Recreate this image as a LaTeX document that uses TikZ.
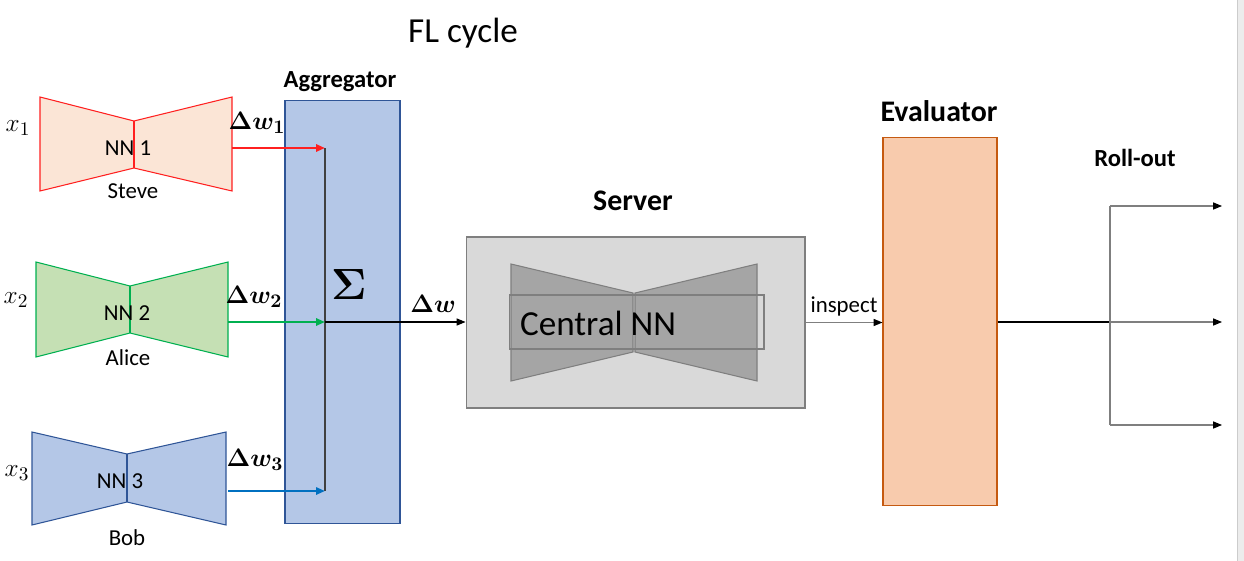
\documentclass[tikz,border=0pt]{standalone}
\usepackage{fontspec}
\setmainfont{Carlito}
\usepackage{amsmath}
\usetikzlibrary{calc}
\usetikzlibrary{arrows.meta}

\definecolor{steveRand}{HTML}{FF2020}
\definecolor{steveFill}{HTML}{FBE5D6}
\definecolor{aliceRand}{HTML}{00B050}
\definecolor{aliceFill}{HTML}{C5E0B4}
\definecolor{bobRand}{HTML}{2F5597}
\definecolor{bobFill}{HTML}{B4C7E7}
\definecolor{pfeilBlau}{HTML}{0070C0}
\definecolor{serverFill}{HTML}{D9D9D9}
\definecolor{zentralFill}{HTML}{A5A5A5}
\definecolor{rahmenGrau}{HTML}{7F7F7F}
\definecolor{evalFill}{HTML}{F8CBAD}
\definecolor{evalRand}{HTML}{C55A11}
\definecolor{seiteGrau}{HTML}{ECECEC}

% Sanduhr: Stil, x links, x Mitte, x rechts, oben, unten, Taille oben, Taille unten
\newcommand{\sanduhr}[8]{%
  \filldraw[#1] (#2,#5) -- (#3,#7) -- (#4,#5) -- (#4,#6) -- (#3,#8) -- (#2,#6) -- cycle;
  \draw[#1, line width=1.3pt] (#3,#7) -- (#3,#8);}

\tikzset{
  beschriftung/.style={font=\fontsize{13}{15}\selectfont},
  formel/.style={font=\fontsize{15}{17}\selectfont},
  ueberschrift/.style={font=\fontsize{#1}{#1}\selectfont\bfseries},
  pfeil/.style={-{Triangle[length=5pt,width=4pt,color=black]}, line width=0.6pt},
}

\begin{document}
\begin{tikzpicture}[x=0.02cm,y=-0.02cm]
\useasboundingbox (0,0) rectangle (1244,561);
\fill[seiteGrau] (1237,0) rectangle (1244,561);
\draw[black!20] (1237,0) -- (1237,561);

\def\pfeilX{325}

\node[font=\fontsize{20}{22}\selectfont] (titel) at (463,33) {FL cycle};

% Clients
\sanduhr{draw=steveRand, fill=steveFill, line width=0.6pt}{40}{134}{232}{97}{191}{121}{168}
\sanduhr{draw=aliceRand, fill=aliceFill, line width=0.6pt}{36}{130}{228}{262}{357}{286}{333}
\sanduhr{draw=bobRand, fill=bobFill, line width=0.6pt}{32}{127}{226}{432}{525}{454}{502}
\node[beschriftung] (nn1) at (128,148) {NN 1};
\node[beschriftung] (nn2) at (127,313) {NN 2};
\node[beschriftung] (nn3) at (120,481) {NN 3};
\node[beschriftung] (steve) at (133,191) {Steve};
\node[beschriftung] (alice) at (128,358) {Alice};
\node[beschriftung] (bob) at (127,538) {Bob};
\node[formel] (x1) at (18,128) {$x_1$};
\node[formel] (x2) at (16,300) {$x_2$};
\node[formel] (x3) at (17,473) {$x_3$};

% Aggregator
\node[draw=bobRand, fill=bobFill, line width=0.6pt, minimum width=2.3cm, minimum height=8.48cm, inner sep=0pt] (agg) at (342.5,312) {};
\node[ueberschrift=14] (aggLabel) at (340,82) {Aggregator};
\node[font=\fontsize{34}{36}\selectfont] (sigma) at (349,285) {$\boldsymbol{\Sigma}$};
\coordinate (s1) at (\pfeilX,148);
\coordinate (s2) at (\pfeilX,322);
\coordinate (s3) at (\pfeilX,491);
\draw[black!75, line width=0.6pt] (s1) -- (s3);
\coordinate (d1) at (232,148);
\coordinate (d2) at (228,322);
\coordinate (d3) at (228,491);
\draw[pfeil, steveRand, line width=1.3pt, -{Triangle[length=5pt,width=4pt]}] (d1) -- (s1);
\draw[pfeil, aliceRand, line width=1.3pt, -{Triangle[length=5pt,width=4pt]}] (d2) -- (s2);
\draw[pfeil, pfeilBlau, line width=1.3pt, -{Triangle[length=5pt,width=4pt]}] (d3) -- (s3);
\node[formel] (dw1) at (257,123) {$\boldsymbol{\Delta w_1}$};
\node[formel] (dw2) at (254,297) {$\boldsymbol{\Delta w_2}$};
\node[formel] (dw3) at (255,460) {$\boldsymbol{\Delta w_3}$};

% Server
\node[draw=rahmenGrau, fill=serverFill, line width=0.6pt, minimum width=6.78cm, minimum height=3.42cm, inner sep=0pt] (server) at (635.5,322.5) {};
\node[ueberschrift=17] (serverLabel) at (633,201) {Server};
\filldraw[draw=rahmenGrau, fill=zentralFill, line width=0.6pt] (511,264) -- (633,293) -- (633,352) -- (511,381) -- cycle;
\filldraw[draw=rahmenGrau, fill=zentralFill, line width=0.6pt] (757,264) -- (635,293) -- (635,352) -- (757,381) -- cycle;
\node[draw=rahmenGrau, line width=0.6pt, minimum width=5.1cm, minimum height=1.08cm, inner sep=0pt] (zentralBox) at (636.5,322) {};
\node[font=\fontsize{20}{22}\selectfont] (zentral) at (598,323) {Central NN};
\draw[pfeil] (s2) -- node[pos=0.77, above, formel, yshift=2pt] {$\boldsymbol{\Delta w}$} (s2 -| server.west);

% Evaluator
\node[draw=evalRand, fill=evalFill, line width=0.6pt, minimum width=2.28cm, minimum height=7.38cm, inner sep=0pt] (eval) at (940,321.5) {};
\node[ueberschrift=17] (evalLabel) at (939,111) {Evaluator};
\draw[pfeil, rahmenGrau] (server.east) -- node[above, beschriftung, text=black] {inspect} (server.east -| eval.west);

% Roll-out
\node[ueberschrift=14] (rollLabel) at (1135,158) {Roll-out};
\coordinate (verteiler) at (1110,322);
\coordinate (v1) at (1110,206);
\coordinate (v3) at (1110,425);
\coordinate (r1) at (1222,206);
\coordinate (r2) at (1222,322);
\coordinate (r3) at (1222,425);
\draw[black, line width=0.6pt] (eval.east |- verteiler) -- (verteiler);
\draw[rahmenGrau, line width=0.6pt] (v1) -- (v3);
\draw[pfeil, rahmenGrau] (v1) -- (r1);
\draw[pfeil, rahmenGrau] (verteiler) -- (r2);
\draw[pfeil, rahmenGrau] (v3) -- (r3);
\end{tikzpicture}
\end{document}
